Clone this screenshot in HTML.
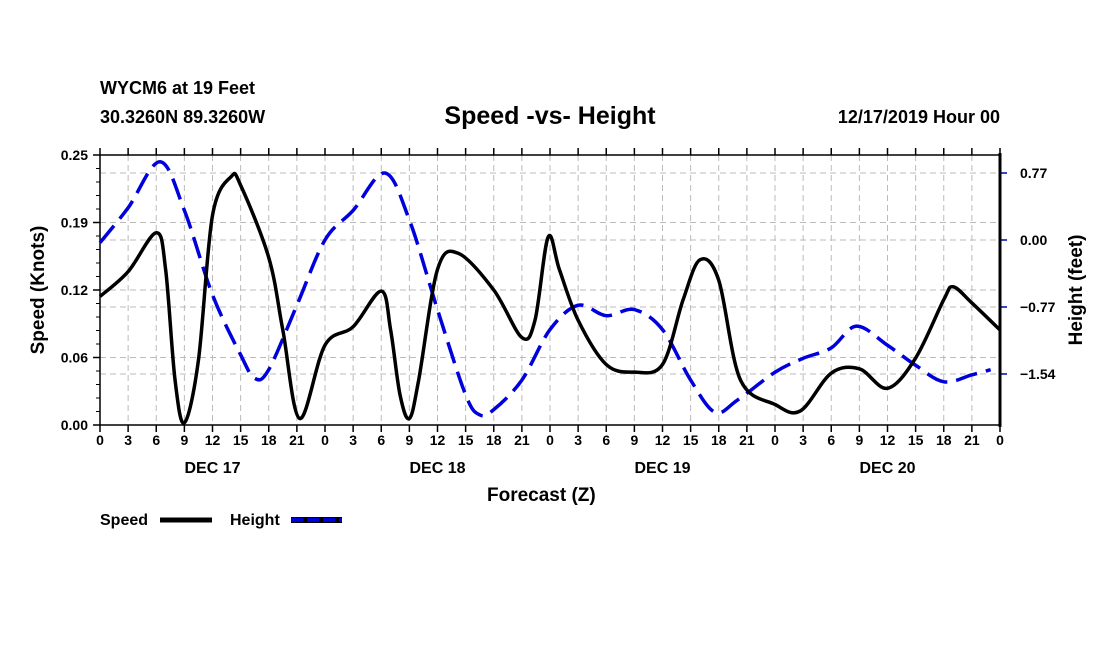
<!DOCTYPE html>
<html><head><meta charset="utf-8"><style>
body{margin:0;background:#fff;}
svg text{font-family:"Liberation Sans",sans-serif;font-weight:bold;}
</style></head><body>
<svg id="c" width="1100" height="650" xmlns="http://www.w3.org/2000/svg">
<text x="100" y="94" font-size="18">WYCM6 at 19 Feet</text>
<text x="100" y="123" font-size="18">30.3260N 89.3260W</text>
<text x="550" y="124" font-size="25" text-anchor="middle">Speed -vs- Height</text>
<text x="1000" y="123" font-size="18" text-anchor="end">12/17/2019 Hour 00</text>
<text x="487" y="501" font-size="19">Forecast (Z)</text>
<text transform="translate(44,290) rotate(-90)" font-size="19" text-anchor="middle">Speed (Knots)</text>
<text transform="translate(1082,290) rotate(-90)" font-size="19" text-anchor="middle">Height (feet)</text>
<g>
<text x="100" y="525" font-size="16">Speed</text>
<line x1="160" y1="520" x2="212" y2="520" stroke="#000" stroke-width="5"/>
<text x="230" y="525" font-size="16">Height</text>
<rect x="291" y="517" width="51" height="6" fill="#000"/>
<line x1="291" y1="520" x2="342" y2="520" stroke="#0000dd" stroke-width="4" stroke-dasharray="12,4"/>
</g>
<g id="grid"></g><g id="axes"></g><g id="series"></g>
</svg>
<script>
const speedHours=[0,3,6,7,8,9,10.5,12,14,15,18,19.5,21.3,24,27,30,31,32,33,34,36,38.2,42,45,46.4,47.8,49,51,54,57,60,62.2,64,66,68.3,72,74.7,78,81,84,87,90,91,93,96];
const speedValues=[.119,.142,.178,.144,.042,.002,.060,.194,.230,.222,.155,.088,.006,.074,.091,.124,.088,.028,.006,.042,.144,.159,.125,.081,.097,.174,.144,.097,.056,.049,.056,.116,.153,.134,.042,.019,.013,.048,.052,.034,.062,.116,.128,.113,.088];
const heightHours=[0,3,6.4,9,12,15,16.5,18,21,24,27,30.4,33,36,39,40.5,42,45,48,51,54,57,60,63,65.6,68,72,75,78,80.7,84,87,90,93,95];
const heightValues=[-0.03,0.37,0.90,0.34,-0.63,-1.32,-1.59,-1.49,-0.75,0,0.34,0.77,0.23,-0.80,-1.78,-2.01,-1.95,-1.61,-1.03,-0.75,-0.87,-0.80,-1.03,-1.61,-1.98,-1.84,-1.52,-1.36,-1.24,-0.99,-1.21,-1.44,-1.63,-1.55,-1.49];
const leftTicks=["0.00","0.06","0.12","0.19","0.25"];
const rightTickVals=[0.77,0,-0.77,-1.54];
const rightTickLabels=["0.77","0.00","\u22120.77","\u22121.54"];
const dayLabels=["DEC 17","DEC 18","DEC 19","DEC 20"];

const X0=100,X1=1000,YT=155,YB=425,HMAX=96;
const xs=h=>X0+(X1-X0)*h/HMAX;
const ys=s=>YB-(YB-YT)*s/0.25;
const yh=v=>240-v*87;
const NS="http://www.w3.org/2000/svg";
function mk(tag,attrs,parent){const e=document.createElementNS(NS,tag);for(const k in attrs)e.setAttribute(k,attrs[k]);parent.appendChild(e);return e;}
const grid=document.getElementById('grid'),axes=document.getElementById('axes'),series=document.getElementById('series');
// vertical grid + ticks
for(let h=0;h<=HMAX;h+=3){
  const x=xs(h);
  if(h>0&&h<HMAX){const g=mk('line',{x1:x,y1:YT,x2:x,y2:YB,stroke:'#bbb','stroke-width':1,'stroke-dasharray':'6,4'},grid);
  
  }
  mk('line',{x1:x,y1:YB,x2:x,y2:YB+7,stroke:'#000','stroke-width':1.5},axes);
  mk('line',{x1:x,y1:YT,x2:x,y2:YT-7,stroke:'#000','stroke-width':1.5},axes);
  const t=mk('text',{x:x,y:YB+20,'font-size':14,'text-anchor':'middle'},axes);
  t.textContent=String(h%24);
  
  
}
dayLabels.forEach((d,i)=>{const t=mk('text',{x:xs(i*24+12),y:YB+48,'font-size':16,'text-anchor':'middle'},axes);t.textContent=d;

});
// left ticks
leftTicks.forEach((lab,i)=>{const y=ys(i*0.0625);
  if(i>0&&i<4){const g=mk('line',{x1:X0,y1:y,x2:X1,y2:y,stroke:'#bbb','stroke-width':1,'stroke-dasharray':'6,4'},grid);
  
  }
  mk('line',{x1:X0-7,y1:y,x2:X0,y2:y,stroke:'#000','stroke-width':1.5},axes);
  const t=mk('text',{x:X0-12,y:y+5,'font-size':14,'text-anchor':'end'},axes);t.textContent=lab;
  
  
});
for(let s=0;s<=0.25;s+=0.0125){const y=ys(s);mk('line',{x1:X0-4,y1:y,x2:X0,y2:y,stroke:'#000','stroke-width':1},axes);}
rightTickVals.forEach((v,i)=>{const y=yh(v);
  const g=mk('line',{x1:X0,y1:y,x2:X1,y2:y,stroke:'#bbb','stroke-width':1,'stroke-dasharray':'6,4'},grid);
  
  
  mk('line',{x1:X1,y1:y,x2:X1+7,y2:y,stroke:'#00a','stroke-width':1.5},axes);
  const t=mk('text',{x:X1+20,y:y+5,'font-size':14},axes);t.textContent=rightTickLabels[i];
  
  
});
mk('line',{x1:X0,y1:YT,x2:X1,y2:YT,stroke:'#000','stroke-width':1.5},axes);
mk('line',{x1:X0,y1:YB,x2:X1,y2:YB,stroke:'#000','stroke-width':1.5},axes);
mk('line',{x1:X0,y1:YT,x2:X0,y2:YB,stroke:'#000','stroke-width':1.5},axes);
mk('line',{x1:X1,y1:YT-2,x2:X1,y2:YB+2,stroke:'#000','stroke-width':3},axes);
function smooth(pts){let d='M'+pts[0][0]+','+pts[0][1];
  for(let i=0;i<pts.length-1;i++){const p0=pts[Math.max(0,i-1)],p1=pts[i],p2=pts[i+1],p3=pts[Math.min(pts.length-1,i+2)];
    d+=' C'+(p1[0]+(p2[0]-p0[0])/6)+','+(p1[1]+(p2[1]-p0[1])/6)+' '+(p2[0]-(p3[0]-p1[0])/6)+','+(p2[1]-(p3[1]-p1[1])/6)+' '+p2[0]+','+p2[1];}
  return d;}
const hp=mk('path',{d:smooth(heightHours.map((h,i)=>[xs(h),yh(heightValues[i])])),fill:'none',stroke:'#0000dd','stroke-width':3.5,'stroke-dasharray':'22,9'},series);


const sp=mk('path',{d:smooth(speedHours.map((h,i)=>[xs(h),ys(speedValues[i])])),fill:'none',stroke:'#000','stroke-width':3.5},series);


</script>
</body></html>
